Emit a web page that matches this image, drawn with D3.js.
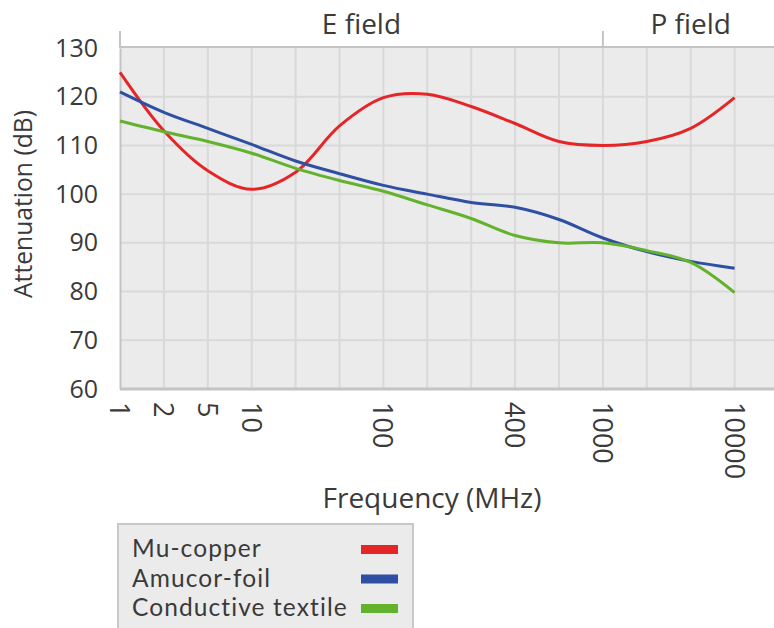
<!DOCTYPE html>
<html>
<head>
<meta charset="utf-8">
<script src="https://cdn.jsdelivr.net/npm/d3@7"></script>
<style>
  body { margin: 0; background: #fff; }
  text { font-family: "Open Sans", sans-serif; fill: #3a3a3a; }
</style>
</head>
<body>
<svg id="chart"></svg>
<script>
// category slots along the x axis (blank slots carry no label)
const categories = ['1', '2', '5', '10', '', '', '100', '', '', '400', '', '1000', '', '', '10000'];
const yTicks = [60, 70, 80, 90, 100, 110, 120, 130];

const muCopper = [125, 113, 104.8, 101, 104.5, 114, 119.8, 120.5, 118, 114.5, 110.8, 110, 110.8, 113.5, 119.8];
const amucorFoil = [121, 116.8, 113.5, 110.2, 106.8, 104.2, 101.8, 100, 98.3, 97.3, 94.8, 91, 88.2, 86.2, 84.8];
const textile = [115, 112.8, 110.8, 108.4, 105.3, 102.8, 100.6, 97.8, 95, 91.5, 90, 90, 88.4, 86, 79.8];

const series = [
  { name: 'Mu-copper', values: muCopper, color: '#e52629' },
  { name: 'Amucor-foil', values: amucorFoil, color: '#2f4fa2' },
  { name: 'Conductive textile', values: textile, color: '#63b22e' }
];

const regions = [
  { name: 'E field', from: 0, to: 11 },
  { name: 'P field', from: 11, to: 15 }
];

const width = 774, height = 628;
const margin = { top: 48, left: 120, bottom: 239 };

const svg = d3.select('#chart').attr('width', width).attr('height', height);

const x = d3.scaleLinear()
  .domain([0, categories.length])
  .range([margin.left, margin.left + 43.9 * categories.length]);

const y = d3.scaleLinear()
  .domain([60, 130])
  .range([height - margin.bottom, margin.top]);

// plot background
svg.append('rect')
  .attr('x', x(0))
  .attr('y', y(130))
  .attr('width', x(categories.length) - x(0))
  .attr('height', y(60) - y(130))
  .attr('fill', '#ebebeb');

// grid
svg.append('g')
  .selectAll('line')
  .data(d3.range(1, categories.length + 1))
  .enter()
  .append('line')
  .attr('x1', d => x(d)).attr('x2', d => x(d))
  .attr('y1', y(130)).attr('y2', y(60))
  .attr('stroke', '#d9d9d9')
  .attr('stroke-width', 2);

svg.append('g')
  .selectAll('line')
  .data(yTicks.slice(1, -1))
  .enter()
  .append('line')
  .attr('x1', x(0)).attr('x2', x(categories.length))
  .attr('y1', d => y(d)).attr('y2', d => y(d))
  .attr('stroke', '#d9d9d9')
  .attr('stroke-width', 2);

// axes
const yAxis = d3.axisLeft(y).tickValues(yTicks).tickSize(0).tickPadding(22);
svg.append('g')
  .attr('transform', `translate(${x(0)},0)`)
  .call(yAxis)
  .call(g => g.select('.domain').attr('stroke', '#c4c4c4').attr('stroke-width', 2))
  .selectAll('text')
  .style('font-size', '25px')
  .attr('fill', '#3a3a3a');

svg.append('line')
  .attr('x1', x(0)).attr('x2', x(categories.length))
  .attr('y1', y(60)).attr('y2', y(60))
  .attr('stroke', '#c4c4c4')
  .attr('stroke-width', 3);

svg.append('g')
  .selectAll('text')
  .data(categories.map((c, i) => ({ c, i })).filter(d => d.c !== ''))
  .enter()
  .append('text')
  .attr('transform', d => `translate(${x(d.i) - 10},${y(60) + 13}) rotate(90)`)
  .attr('text-anchor', 'start')
  .style('font-size', '27px')
  .text(d => d.c);

// top region bracket
svg.append('line')
  .attr('x1', x(0)).attr('x2', x(categories.length))
  .attr('y1', y(130) - 1).attr('y2', y(130) - 1)
  .attr('stroke', '#c4c4c4')
  .attr('stroke-width', 2);

svg.append('g')
  .selectAll('line')
  .data(regions)
  .enter()
  .append('line')
  .attr('x1', d => x(d.from)).attr('x2', d => x(d.from))
  .attr('y1', y(130) - 17).attr('y2', y(130))
  .attr('stroke', '#c4c4c4')
  .attr('stroke-width', 2);

svg.append('g')
  .selectAll('text')
  .data(regions)
  .enter()
  .append('text')
  .attr('x', d => (x(d.from) + x(d.to)) / 2)
  .attr('y', 34)
  .attr('text-anchor', 'middle')
  .style('font-size', '28px')
  .text(d => d.name);

// lines
const line = d3.line()
  .x((d, i) => x(i))
  .y(d => y(d))
  .curve(d3.curveCatmullRom.alpha(0.5));

svg.append('g')
  .selectAll('path')
  .data(series)
  .enter()
  .append('path')
  .attr('d', d => line(d.values))
  .attr('fill', 'none')
  .attr('stroke', d => d.color)
  .attr('stroke-width', 3);

// axis titles
svg.append('text')
  .attr('transform', 'translate(32,204) rotate(-90)')
  .attr('text-anchor', 'middle')
  .attr('textLength', 188)
  .attr('lengthAdjust', 'spacingAndGlyphs')
  .style('font-size', '25px')
  .text('Attenuation (dB)');

svg.append('text')
  .attr('x', 432)
  .attr('y', 508)
  .attr('text-anchor', 'middle')
  .style('font-size', '28px')
  .text('Frequency (MHz)');

// legend
const legend = svg.append('g').attr('transform', 'translate(118,524)');
legend.append('rect')
  .attr('width', 295).attr('height', 120)
  .attr('fill', '#ebebeb')
  .attr('stroke', '#c8c8c8')
  .attr('stroke-width', 2);

legend.selectAll('text.label')
  .data(series)
  .enter()
  .append('text')
  .attr('class', 'label')
  .attr('x', 14)
  .attr('y', (d, i) => 33 + i * 29.5)
  .style('font-family', 'Lato, sans-serif')
  .style('font-size', '24.5px')
  .style('letter-spacing', '1.1px')
  .text(d => d.name);

legend.selectAll('rect.swatch')
  .data(series)
  .enter()
  .append('rect')
  .attr('class', 'swatch')
  .attr('x', 243)
  .attr('y', (d, i) => 21 + i * 29.5)
  .attr('width', 37).attr('height', 9)
  .attr('fill', d => d.color);
</script>
</body>
</html>
